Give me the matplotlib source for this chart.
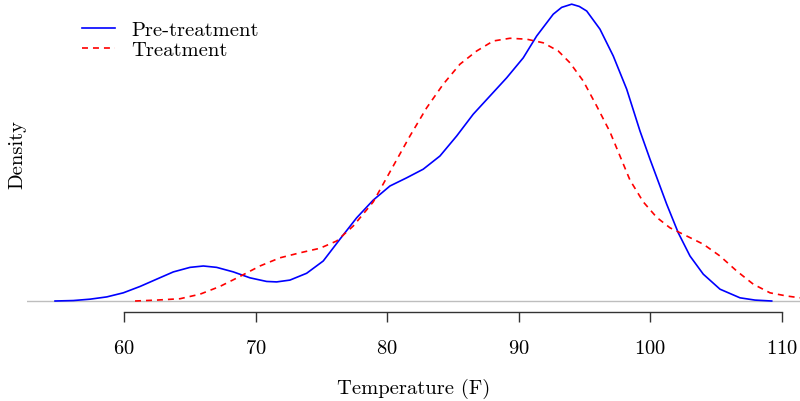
import matplotlib
matplotlib.use("Agg")
import matplotlib.pyplot as plt

# density estimates
pre_x = [54.76, 56.15, 57.42, 58.69, 59.95, 61.22, 62.48, 63.75, 65.02, 66.03,
         67.04, 68.31, 69.57, 70.84, 71.60, 72.61, 73.88, 75.14, 76.41, 77.68,
         78.94, 80.21, 81.48, 82.74, 84.01, 85.28, 86.54, 87.81, 89.08, 90.34,
         91.36, 92.62, 93.26, 94.02, 94.60, 95.16, 96.17, 97.18, 98.20, 99.21,
         99.97, 101.24, 102.12, 103.01, 104.02, 105.29, 106.81, 107.95, 109.22]
pre_y = [0.0000, 0.0001, 0.0004, 0.0009, 0.0018, 0.0032, 0.0048, 0.0064, 0.0074, 0.0077,
         0.0074, 0.0064, 0.0051, 0.0043, 0.0042, 0.0046, 0.0061, 0.0088, 0.0136, 0.0183,
         0.0222, 0.0253, 0.0271, 0.0290, 0.0319, 0.0363, 0.0411, 0.0451, 0.0491, 0.0535,
         0.0583, 0.0631, 0.0646, 0.0653, 0.0648, 0.0638, 0.0598, 0.0539, 0.0466, 0.0374,
         0.0312, 0.0213, 0.0150, 0.0099, 0.0059, 0.0026, 0.0007, 0.0002, 0.0000]

trt_x = [60.84, 62.48, 64.26, 65.78, 67.29, 68.81, 70.33, 71.85, 73.37, 74.89,
         76.16, 77.42, 78.94, 80.46, 81.73, 83.00, 84.26, 85.53, 86.80, 88.06,
         89.33, 90.60, 91.86, 93.00, 93.89, 94.90, 95.92, 96.93, 97.56, 98.45,
         99.46, 100.48, 101.49, 102.76, 104.02, 105.29, 106.56, 107.82, 109.09,
         110.36, 111.37]
trt_y = [0.0000, 0.0002, 0.0005, 0.0015, 0.0032, 0.0054, 0.0077, 0.0095, 0.0106, 0.0116,
         0.0132, 0.0165, 0.0218, 0.0297, 0.0363, 0.0425, 0.0477, 0.0521, 0.0550, 0.0572,
         0.0578, 0.0576, 0.0568, 0.0550, 0.0524, 0.0484, 0.0429, 0.0372, 0.0328, 0.0266,
         0.0218, 0.0184, 0.0161, 0.0143, 0.0125, 0.0099, 0.0066, 0.0037, 0.0018,
         0.0011, 0.0007]

x_ticks = [60, 70, 80, 90, 100, 110]

plt.rcParams['font.family'] = ['cmr10', 'DejaVu Serif']
plt.rcParams['axes.formatter.use_mathtext'] = True
plt.rcParams['lines.scale_dashes'] = False

fig = plt.figure(figsize=(8, 4.02), dpi=100)
ax = fig.add_axes([27 / 800, 89 / 402, 773 / 800, 313 / 402])

ax.axhline(0, color='#bebebe', lw=1.0, zorder=1)
ax.plot(pre_x, pre_y, color='#0000ff', lw=1.2, label='Pre-treatment')
ax.plot(trt_x, trt_y, color='#ff0000', lw=1.2, dashes=(4.3, 3.6), label='Treatment')

# baseline at 302px, figure top at 0px, axis line at 313px
k = 0.00022
ax.set_ylim(-11 * k, 302 * k)
ax.set_xlim(52.63, 111.37)

for s in ['top', 'right', 'left']:
    ax.spines[s].set_visible(False)
ax.spines['bottom'].set_bounds(60, 110)
ax.spines['bottom'].set_color('#333333')
ax.spines['bottom'].set_linewidth(1.0)
ax.set_yticks([])
ax.set_xticks(x_ticks)
ax.tick_params(axis='x', direction='out', length=7.2, width=1.0, color='#333333',
               pad=12, labelsize=14.8)

fig.text(413.5 / 800, 1 - 389 / 402, 'Temperature (F)', ha='center', va='center', fontsize=14.8)
fig.text(17 / 800, 1 - 155 / 402, 'Density', ha='center', va='center', rotation=90, fontsize=14.8)

ax.legend(loc='upper left', bbox_to_anchor=(55 / 773, 1 - 22 / 313), frameon=False,
          fontsize=14.8, handlelength=1.6, handletextpad=0.78, labelspacing=0.05,
          borderaxespad=0, borderpad=0)

fig.savefig('out.png', dpi=100)
